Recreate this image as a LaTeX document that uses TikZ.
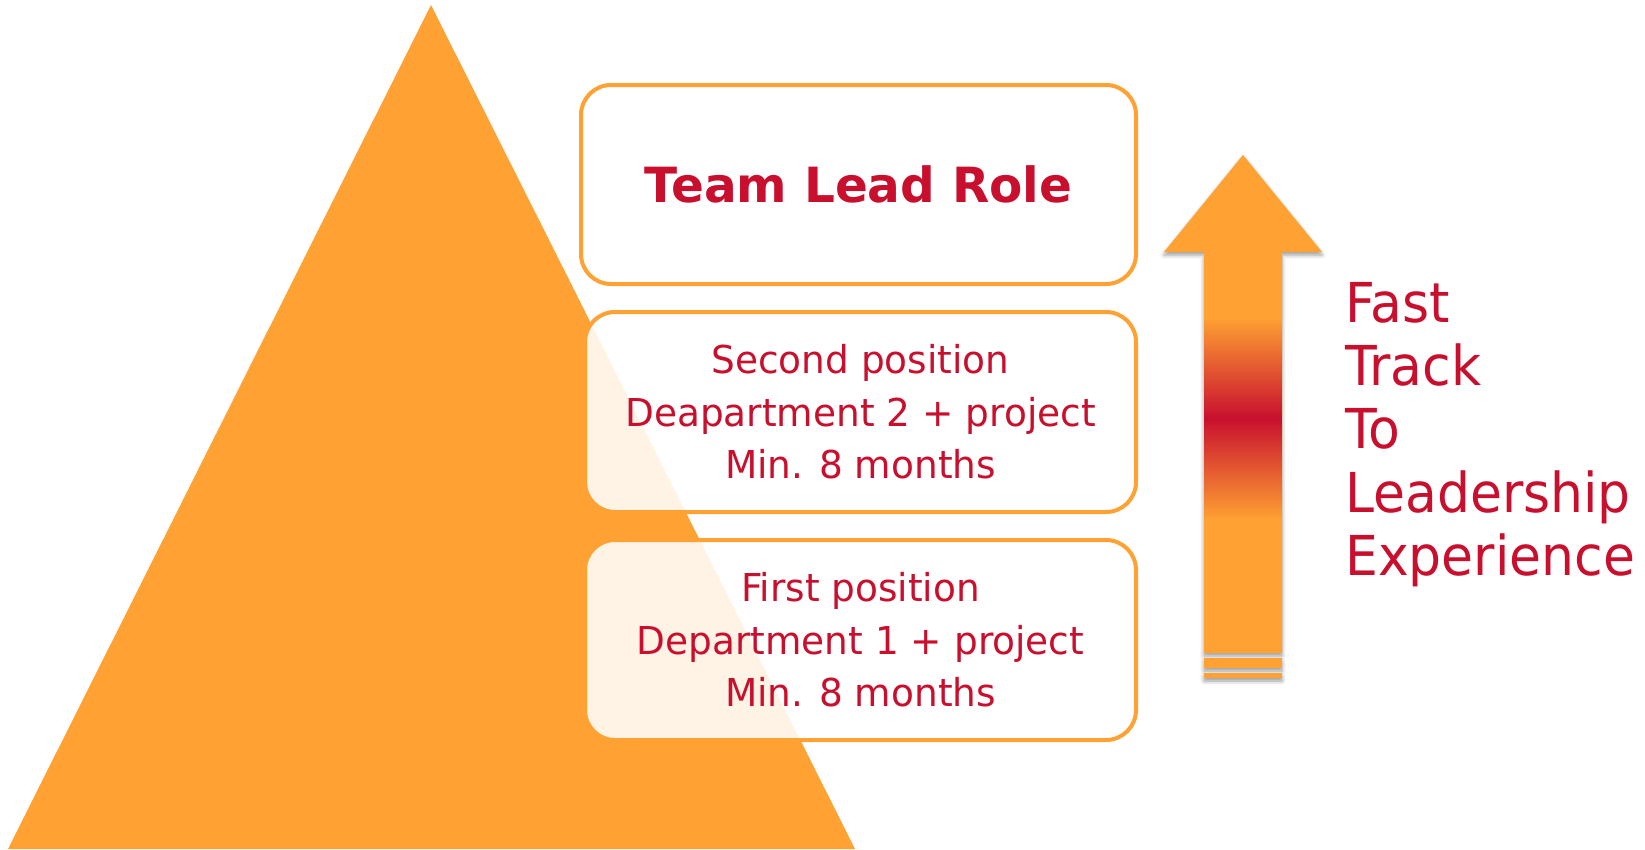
\documentclass[tikz,border=0pt]{standalone}
\usepackage{fontspec}
\setmainfont{DejaVu Sans}
\newfontfamily\sidefont[FakeStretch=0.945]{DejaVu Sans}
\newfontfamily\boxfont[FakeStretch=0.975]{DejaVu Sans}
\usetikzlibrary{shadows.blur}
\definecolor{tri}{RGB}{255,161,51}
\definecolor{crim}{RGB}{200,16,46}
\tikzset{
  stepbox/.style={draw=tri, line width=4pt, rounded corners=30pt, fill=white,
    fill opacity=0.88, text opacity=1, text=crim, align=center, inner sep=0pt},
  boxtext/.style={font=\boxfont\fontsize{38.4}{52.5}\selectfont},
  titletext/.style={font=\fontsize{48.5}{58}\selectfont\bfseries},
  sidetext/.style={text=crim, align=left, inner sep=0pt, font=\sidefont\fontsize{55}{63.3}\selectfont},
  arrowshadow/.style={blur shadow={shadow xshift=0pt, shadow yshift=-3pt, shadow blur radius=4pt, shadow opacity=40}}
}
\begin{document}
\begin{tikzpicture}[x=1pt,y=-1pt]
\useasboundingbox (0,0) rectangle (1645,849);
% pyramid
\fill[tri] (431,5) -- (855,849) -- (8,849) -- cycle;
% boxes
\node[stepbox, titletext, minimum width=555pt, minimum height=199pt] (top) at (858.5,184.5) {Team Lead Role};
\node[stepbox, boxtext, minimum width=551pt, minimum height=200pt] (second) at (860.5,412) {Second position\\Deapartment 2 + project\\Min. 8 months};
\node[stepbox, boxtext, minimum width=551pt, minimum height=200pt] (first) at (860.5,640) {First position\\Department 1 + project\\Min. 8 months};
% arrow
\fill[tri, arrowshadow] (1243,155) -- (1322,252) -- (1282,252) -- (1282,653) -- (1204,653) -- (1204,252) -- (1164,252) -- cycle;
\foreach \i in {0,...,101} {
  \pgfmathsetmacro{\p}{100*(1-abs(\i-50.5)/50.5)}
  \fill[crim!\p!tri] (1204,317+\i*2) rectangle (1282,319.6+\i*2);
}
\fill[tri, arrowshadow] (1204,658) rectangle (1282,668);
\fill[tri, arrowshadow] (1204,673) rectangle (1282,678);
% side text
\node[sidetext, anchor=north west] (side) at (1345,282) {Fast\\Track\\To\\Leadership\\Experience};
\end{tikzpicture}
\end{document}
